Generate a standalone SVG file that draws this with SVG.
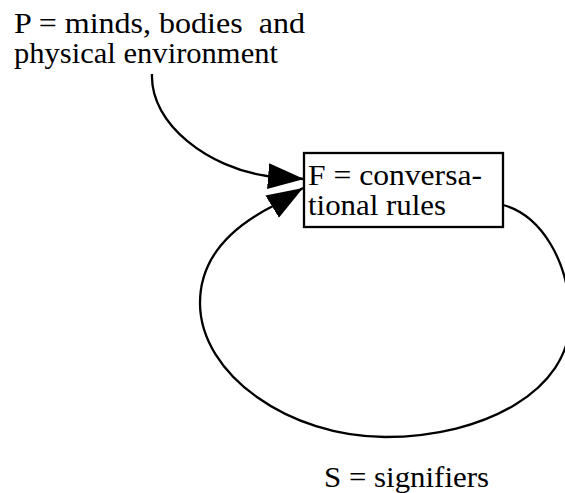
<svg xmlns="http://www.w3.org/2000/svg" width="565" height="493" viewBox="0 0 565 493">
  <style>
    text { font-family: 'Liberation Serif', 'DejaVu Serif', 'Times New Roman', Times, serif; font-size: 30px; fill: #000; }
    .edge { fill: none; stroke: #000; stroke-width: 2.3; }
    .box { fill: #fff; stroke: #000; stroke-width: 2.3; }
  </style>
  <defs>
    <marker id="head" markerUnits="userSpaceOnUse" markerWidth="38" markerHeight="28" refX="36" refY="13" orient="auto">
      <path d="M0,0 L36,13 L0,26 z" fill="#000"/>
    </marker>
  </defs>

  <!-- connectors -->
  <g id="connectors">
    <path id="p-to-f" class="edge" d="M152,74 C150,125 210,168 267,176 L304,179" marker-end="url(#head)"/>
    <path id="s-loop" class="edge" d="M503,205 C540,215 570,260 570,320 C570,390 485,437 385,437 C290,437 200,375 200,303 C200,255 235,225 274,205.5 L303,188" marker-end="url(#head)"/>
  </g>

  <!-- P node -->
  <g id="node-p" font-family="Liberation Serif, serif">
    <text x="14" y="33" xml:space="preserve" textLength="291" lengthAdjust="spacingAndGlyphs">P = minds, bodies  and</text>
    <text x="14" y="63" textLength="264" lengthAdjust="spacingAndGlyphs">physical environment</text>
  </g>

  <!-- F node -->
  <g id="node-f">
    <rect class="box" x="304" y="153" width="199" height="74"/>
    <text x="308" y="185" textLength="174" lengthAdjust="spacingAndGlyphs">F = conversa-</text>
    <text x="308" y="215" textLength="138" lengthAdjust="spacingAndGlyphs">tional rules</text>
  </g>

  <!-- S node -->
  <g id="node-s">
    <text x="324" y="487" textLength="165" lengthAdjust="spacingAndGlyphs">S = signifiers</text>
  </g>
</svg>
